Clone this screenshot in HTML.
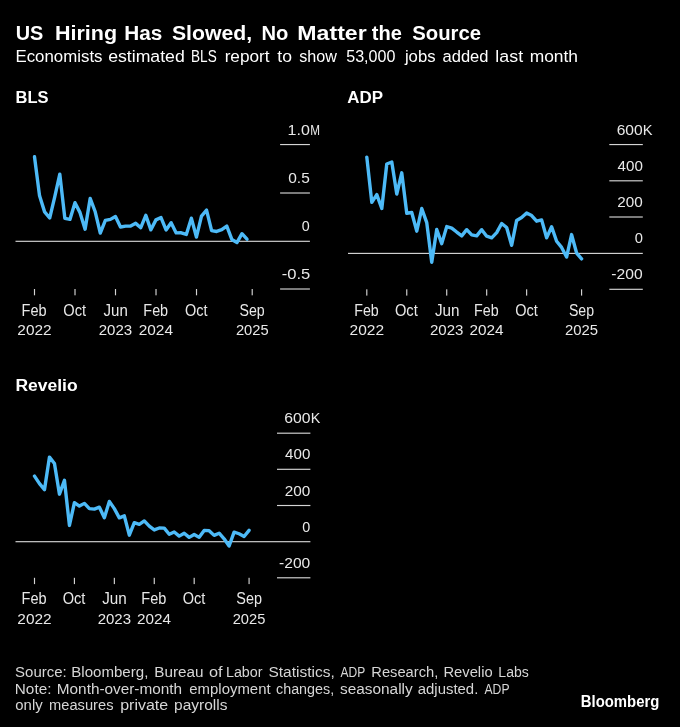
<!DOCTYPE html>
<html><head><meta charset="utf-8"><title>US Hiring Has Slowed, No Matter the Source</title>
<style>
html,body{margin:0;padding:0;background:#000;}
body{width:680px;height:727px;overflow:hidden;}
svg{display:block;will-change:transform;}
svg text{font-family:"Liberation Sans",sans-serif;}
</style></head><body>
<svg width="680" height="727" viewBox="0 0 680 727">
<rect width="680" height="727" fill="#000"/>
<text id="t0" x="15.72" y="40.25" font-size="19.4" font-weight="bold" fill="#ffffff" textLength="27.61" lengthAdjust="spacingAndGlyphs">US</text><text id="t1" x="55.02" y="40.25" font-size="19.4" font-weight="bold" fill="#ffffff" textLength="62.05" lengthAdjust="spacingAndGlyphs">Hiring</text><text id="t2" x="124.21" y="40.25" font-size="19.4" font-weight="bold" fill="#ffffff" textLength="38.04" lengthAdjust="spacingAndGlyphs">Has</text><text id="t3" x="171.90" y="40.25" font-size="19.4" font-weight="bold" fill="#ffffff" textLength="80.13" lengthAdjust="spacingAndGlyphs">Slowed,</text><text id="t4" x="261.41" y="40.25" font-size="19.4" font-weight="bold" fill="#ffffff" textLength="26.88" lengthAdjust="spacingAndGlyphs">No</text><text id="t5" x="297.39" y="40.25" font-size="19.4" font-weight="bold" fill="#ffffff" textLength="69.33" lengthAdjust="spacingAndGlyphs">Matter</text><text id="t6" x="371.88" y="40.25" font-size="19.4" font-weight="bold" fill="#ffffff" textLength="30.08" lengthAdjust="spacingAndGlyphs">the</text><text id="t7" x="412.20" y="40.25" font-size="19.4" font-weight="bold" fill="#ffffff" textLength="68.85" lengthAdjust="spacingAndGlyphs">Source</text><text id="s0" x="15.45" y="61.50" font-size="16.7" fill="#ffffff" textLength="87.04" lengthAdjust="spacingAndGlyphs">Economists</text><text id="s1" x="108.15" y="61.50" font-size="16.7" fill="#ffffff" textLength="76.63" lengthAdjust="spacingAndGlyphs">estimated</text><text id="s2" x="191.02" y="61.50" font-size="16.7" fill="#ffffff" textLength="25.67" lengthAdjust="spacingAndGlyphs">BLS</text><text id="s3" x="224.65" y="61.50" font-size="16.7" fill="#ffffff" textLength="44.93" lengthAdjust="spacingAndGlyphs">report</text><text id="s4" x="277.35" y="61.50" font-size="16.7" fill="#ffffff" textLength="14.65" lengthAdjust="spacingAndGlyphs">to</text><text id="s5" x="299.22" y="61.50" font-size="16.7" fill="#ffffff" textLength="37.70" lengthAdjust="spacingAndGlyphs">show</text><text id="s6" x="346.23" y="61.50" font-size="16.7" fill="#ffffff" textLength="49.18" lengthAdjust="spacingAndGlyphs">53,000</text><text id="s7" x="404.91" y="61.50" font-size="16.7" fill="#ffffff" textLength="30.64" lengthAdjust="spacingAndGlyphs">jobs</text><text id="s8" x="442.50" y="61.50" font-size="16.7" fill="#ffffff" textLength="45.94" lengthAdjust="spacingAndGlyphs">added</text><text id="s9" x="495.38" y="61.50" font-size="16.7" fill="#ffffff" textLength="27.71" lengthAdjust="spacingAndGlyphs">last</text><text id="s10" x="529.67" y="61.50" font-size="16.7" fill="#ffffff" textLength="48.37" lengthAdjust="spacingAndGlyphs">month</text><text id="hBLS" x="15.46" y="102.50" font-size="15.6" font-weight="bold" fill="#ffffff" textLength="33.02" lengthAdjust="spacingAndGlyphs">BLS</text><text id="hADP" x="347.29" y="102.60" font-size="15.6" font-weight="bold" fill="#ffffff" textLength="35.75" lengthAdjust="spacingAndGlyphs">ADP</text><text id="hREV" x="15.42" y="391.25" font-size="15.6" font-weight="bold" fill="#ffffff" textLength="62.19" lengthAdjust="spacingAndGlyphs">Revelio</text><rect x="280.10" y="143.98" width="29.80" height="1.15" fill="#d4d4d4"/><text id="by1.0" x="287.55" y="134.55" font-size="15.1" fill="#e8e8e8" textLength="22.24" lengthAdjust="spacingAndGlyphs">1.0</text><text id="by1.0s" x="310.37" y="134.55" font-size="15.1" fill="#e8e8e8" textLength="9.77" lengthAdjust="spacingAndGlyphs">M</text><rect x="280.10" y="192.43" width="29.80" height="1.15" fill="#d4d4d4"/><text id="by0.5" x="288.28" y="183.00" font-size="15.1" fill="#e8e8e8" textLength="21.47" lengthAdjust="spacingAndGlyphs">0.5</text><rect x="15.50" y="240.73" width="294.40" height="1.15" fill="#d4d4d4"/><text id="by0" x="301.71" y="231.30" font-size="15.1" fill="#e8e8e8" textLength="7.95" lengthAdjust="spacingAndGlyphs">0</text><rect x="280.10" y="288.43" width="29.80" height="1.15" fill="#d4d4d4"/><text id="by-0.5" x="281.66" y="279.00" font-size="15.1" fill="#e8e8e8" textLength="28.54" lengthAdjust="spacingAndGlyphs">-0.5</text><rect x="33.92" y="289.00" width="1.15" height="6.30" fill="#d4d4d4"/><text id="bx34a" x="21.61" y="315.60" font-size="16" fill="#e8e8e8" textLength="25.04" lengthAdjust="spacingAndGlyphs">Feb</text><text id="bx34b" x="17.37" y="334.90" font-size="15.4" fill="#e8e8e8" textLength="34.30" lengthAdjust="spacingAndGlyphs">2022</text><rect x="74.43" y="289.00" width="1.15" height="6.30" fill="#d4d4d4"/><text id="bx75a" x="63.34" y="315.60" font-size="16" fill="#e8e8e8" textLength="22.77" lengthAdjust="spacingAndGlyphs">Oct</text><rect x="114.93" y="289.00" width="1.15" height="6.30" fill="#d4d4d4"/><text id="bx115a" x="103.60" y="315.60" font-size="16" fill="#e8e8e8" textLength="24.24" lengthAdjust="spacingAndGlyphs">Jun</text><text id="bx115b" x="98.69" y="334.90" font-size="15.4" fill="#e8e8e8" textLength="33.52" lengthAdjust="spacingAndGlyphs">2023</text><rect x="155.44" y="289.00" width="1.15" height="6.30" fill="#d4d4d4"/><text id="bx156a" x="143.37" y="315.60" font-size="16" fill="#e8e8e8" textLength="24.75" lengthAdjust="spacingAndGlyphs">Feb</text><text id="bx156b" x="138.74" y="334.90" font-size="15.4" fill="#e8e8e8" textLength="34.28" lengthAdjust="spacingAndGlyphs">2024</text><rect x="195.94" y="289.00" width="1.15" height="6.30" fill="#d4d4d4"/><text id="bx196a" x="185.01" y="315.60" font-size="16" fill="#e8e8e8" textLength="22.48" lengthAdjust="spacingAndGlyphs">Oct</text><rect x="251.63" y="289.00" width="1.15" height="6.30" fill="#d4d4d4"/><text id="bx252a" x="239.44" y="315.60" font-size="16" fill="#e8e8e8" textLength="25.19" lengthAdjust="spacingAndGlyphs">Sep</text><text id="bx252b" x="235.88" y="334.90" font-size="15.4" fill="#e8e8e8" textLength="32.74" lengthAdjust="spacingAndGlyphs">2025</text><path d="M34.50,156.77 L39.56,195.85 L44.62,211.87 L49.68,218.04 L54.74,196.81 L59.80,174.14 L64.86,218.43 L69.92,219.39 L74.98,202.70 L80.04,212.64 L85.10,229.14 L90.16,198.45 L95.22,211.77 L100.28,233.10 L105.34,220.46 L110.40,219.39 L115.46,216.50 L120.52,227.02 L125.58,226.15 L130.64,226.05 L135.70,223.35 L140.76,227.69 L145.82,215.34 L150.88,229.82 L155.94,219.88 L161.00,217.56 L166.06,229.91 L171.12,222.68 L176.18,232.90 L181.24,232.81 L186.30,234.45 L191.36,218.14 L196.42,237.05 L201.48,216.11 L206.54,210.13 L211.60,230.59 L216.66,231.46 L221.72,229.72 L226.78,226.05 L231.84,239.47 L236.90,242.55 L241.96,233.68 L247.02,239.18" fill="none" stroke="#4dbaf7" stroke-width="3.4" stroke-linejoin="round" stroke-linecap="round"/><rect x="609.30" y="143.98" width="33.50" height="1.15" fill="#d4d4d4"/><text id="ay600" x="616.66" y="134.55" font-size="15.1" fill="#e8e8e8" textLength="26.02" lengthAdjust="spacingAndGlyphs">600</text><text id="ay600s" x="642.85" y="134.55" font-size="15.1" fill="#e8e8e8" textLength="9.80" lengthAdjust="spacingAndGlyphs">K</text><rect x="609.30" y="180.23" width="33.50" height="1.15" fill="#d4d4d4"/><text id="ay400" x="617.56" y="170.80" font-size="15.1" fill="#e8e8e8" textLength="25.26" lengthAdjust="spacingAndGlyphs">400</text><rect x="609.30" y="216.43" width="33.50" height="1.15" fill="#d4d4d4"/><text id="ay200" x="617.26" y="207.00" font-size="15.1" fill="#e8e8e8" textLength="25.44" lengthAdjust="spacingAndGlyphs">200</text><rect x="348.00" y="252.83" width="294.80" height="1.15" fill="#d4d4d4"/><text id="ay0" x="634.82" y="243.40" font-size="15.1" fill="#e8e8e8" textLength="8.18" lengthAdjust="spacingAndGlyphs">0</text><rect x="609.30" y="288.73" width="33.50" height="1.15" fill="#d4d4d4"/><text id="ay-200" x="611.37" y="279.30" font-size="15.1" fill="#e8e8e8" textLength="31.29" lengthAdjust="spacingAndGlyphs">-200</text><rect x="366.23" y="289.30" width="1.15" height="6.30" fill="#d4d4d4"/><text id="ax366a" x="354.23" y="315.90" font-size="16" fill="#e8e8e8" textLength="24.51" lengthAdjust="spacingAndGlyphs">Feb</text><text id="ax366b" x="349.64" y="335.20" font-size="15.4" fill="#e8e8e8" textLength="34.51" lengthAdjust="spacingAndGlyphs">2022</text><rect x="406.19" y="289.30" width="1.15" height="6.30" fill="#d4d4d4"/><text id="ax406a" x="394.93" y="315.90" font-size="16" fill="#e8e8e8" textLength="22.81" lengthAdjust="spacingAndGlyphs">Oct</text><rect x="446.15" y="289.30" width="1.15" height="6.30" fill="#d4d4d4"/><text id="ax446a" x="434.94" y="315.90" font-size="16" fill="#e8e8e8" textLength="24.53" lengthAdjust="spacingAndGlyphs">Jun</text><text id="ax446b" x="429.97" y="335.20" font-size="15.4" fill="#e8e8e8" textLength="33.42" lengthAdjust="spacingAndGlyphs">2023</text><rect x="486.11" y="289.30" width="1.15" height="6.30" fill="#d4d4d4"/><text id="ax486a" x="474.09" y="315.90" font-size="16" fill="#e8e8e8" textLength="24.60" lengthAdjust="spacingAndGlyphs">Feb</text><text id="ax486b" x="469.47" y="335.20" font-size="15.4" fill="#e8e8e8" textLength="34.14" lengthAdjust="spacingAndGlyphs">2024</text><rect x="526.06" y="289.30" width="1.15" height="6.30" fill="#d4d4d4"/><text id="ax526a" x="515.14" y="315.90" font-size="16" fill="#e8e8e8" textLength="22.54" lengthAdjust="spacingAndGlyphs">Oct</text><rect x="581.01" y="289.30" width="1.15" height="6.30" fill="#d4d4d4"/><text id="ax581a" x="568.95" y="315.90" font-size="16" fill="#e8e8e8" textLength="25.04" lengthAdjust="spacingAndGlyphs">Sep</text><text id="ax581b" x="564.97" y="335.20" font-size="15.4" fill="#e8e8e8" textLength="33.07" lengthAdjust="spacingAndGlyphs">2025</text><path d="M366.80,157.11 L371.80,202.36 L376.79,194.57 L381.79,208.51 L386.78,163.99 L391.78,162.00 L396.77,194.03 L401.76,172.85 L406.76,213.22 L411.75,212.49 L416.75,231.14 L421.75,208.51 L426.74,222.63 L431.74,262.27 L436.73,229.51 L441.73,243.63 L446.72,226.61 L451.72,228.06 L456.71,232.04 L461.71,235.84 L466.70,229.69 L471.69,234.94 L476.69,235.84 L481.69,229.69 L486.68,236.21 L491.68,237.83 L496.67,232.59 L501.67,223.53 L506.66,227.52 L511.65,245.25 L516.65,220.46 L521.64,217.56 L526.64,213.04 L531.63,215.57 L536.63,221.18 L541.62,219.91 L546.62,237.83 L551.62,226.79 L556.61,241.27 L561.61,247.43 L566.60,257.02 L571.60,234.58 L576.59,253.04 L581.59,258.83" fill="none" stroke="#4dbaf7" stroke-width="3.4" stroke-linejoin="round" stroke-linecap="round"/><rect x="277.00" y="432.62" width="33.40" height="1.15" fill="#d4d4d4"/><text id="ry600" x="284.19" y="423.20" font-size="15.1" fill="#e8e8e8" textLength="26.22" lengthAdjust="spacingAndGlyphs">600</text><text id="ry600s" x="310.64" y="423.20" font-size="15.1" fill="#e8e8e8" textLength="9.60" lengthAdjust="spacingAndGlyphs">K</text><rect x="277.00" y="468.73" width="33.40" height="1.15" fill="#d4d4d4"/><text id="ry400" x="285.12" y="459.30" font-size="15.1" fill="#e8e8e8" textLength="25.16" lengthAdjust="spacingAndGlyphs">400</text><rect x="277.00" y="504.93" width="33.40" height="1.15" fill="#d4d4d4"/><text id="ry200" x="284.66" y="495.50" font-size="15.1" fill="#e8e8e8" textLength="25.52" lengthAdjust="spacingAndGlyphs">200</text><rect x="15.50" y="541.12" width="294.90" height="1.15" fill="#d4d4d4"/><text id="ry0" x="302.23" y="531.70" font-size="15.1" fill="#e8e8e8" textLength="7.99" lengthAdjust="spacingAndGlyphs">0</text><rect x="277.00" y="577.22" width="33.40" height="1.15" fill="#d4d4d4"/><text id="ry-200" x="279.06" y="567.80" font-size="15.1" fill="#e8e8e8" textLength="31.19" lengthAdjust="spacingAndGlyphs">-200</text><rect x="33.92" y="577.80" width="1.15" height="6.30" fill="#d4d4d4"/><text id="rx34a" x="21.61" y="604.40" font-size="16" fill="#e8e8e8" textLength="25.04" lengthAdjust="spacingAndGlyphs">Feb</text><text id="rx34b" x="17.37" y="623.70" font-size="15.4" fill="#e8e8e8" textLength="34.30" lengthAdjust="spacingAndGlyphs">2022</text><rect x="73.84" y="577.80" width="1.15" height="6.30" fill="#d4d4d4"/><text id="rx74a" x="62.71" y="604.40" font-size="16" fill="#e8e8e8" textLength="22.70" lengthAdjust="spacingAndGlyphs">Oct</text><rect x="113.77" y="577.80" width="1.15" height="6.30" fill="#d4d4d4"/><text id="rx114a" x="102.20" y="604.40" font-size="16" fill="#e8e8e8" textLength="24.54" lengthAdjust="spacingAndGlyphs">Jun</text><text id="rx114b" x="97.69" y="623.70" font-size="15.4" fill="#e8e8e8" textLength="33.34" lengthAdjust="spacingAndGlyphs">2023</text><rect x="153.69" y="577.80" width="1.15" height="6.30" fill="#d4d4d4"/><text id="rx154a" x="141.36" y="604.40" font-size="16" fill="#e8e8e8" textLength="25.00" lengthAdjust="spacingAndGlyphs">Feb</text><text id="rx154b" x="137.06" y="623.70" font-size="15.4" fill="#e8e8e8" textLength="33.98" lengthAdjust="spacingAndGlyphs">2024</text><rect x="193.61" y="577.80" width="1.15" height="6.30" fill="#d4d4d4"/><text id="rx194a" x="182.63" y="604.40" font-size="16" fill="#e8e8e8" textLength="22.57" lengthAdjust="spacingAndGlyphs">Oct</text><rect x="248.50" y="577.80" width="1.15" height="6.30" fill="#d4d4d4"/><text id="rx249a" x="236.36" y="604.40" font-size="16" fill="#e8e8e8" textLength="25.60" lengthAdjust="spacingAndGlyphs">Sep</text><text id="rx249b" x="232.70" y="623.70" font-size="15.4" fill="#e8e8e8" textLength="32.64" lengthAdjust="spacingAndGlyphs">2025</text><path d="M34.50,476.09 L39.49,483.68 L44.48,489.64 L49.47,457.11 L54.46,463.44 L59.45,494.16 L64.44,480.25 L69.43,525.43 L74.42,502.66 L79.41,506.09 L84.40,503.38 L89.39,508.62 L94.38,509.17 L99.37,507.18 L104.36,517.66 L109.35,501.39 L114.34,508.62 L119.33,517.84 L124.32,515.85 L129.31,535.19 L134.30,522.72 L139.29,524.35 L144.28,520.91 L149.27,526.16 L154.26,529.95 L159.25,527.96 L164.24,528.14 L169.23,534.29 L174.22,531.94 L179.21,536.10 L184.20,533.20 L189.19,537.36 L194.18,534.47 L199.17,537.36 L204.16,530.49 L209.15,530.67 L214.14,535.37 L219.13,533.20 L224.12,538.81 L229.11,546.04 L234.10,532.12 L239.09,533.75 L244.08,536.46 L249.07,530.31" fill="none" stroke="#4dbaf7" stroke-width="3.4" stroke-linejoin="round" stroke-linecap="round"/><text id="fa0" x="15.12" y="677.30" font-size="15.3" fill="#d6d6d6" textLength="51.65" lengthAdjust="spacingAndGlyphs">Source:</text><text id="fa1" x="71.23" y="677.30" font-size="15.3" fill="#d6d6d6" textLength="77.12" lengthAdjust="spacingAndGlyphs">Bloomberg,</text><text id="fa2" x="154.23" y="677.30" font-size="15.3" fill="#d6d6d6" textLength="49.24" lengthAdjust="spacingAndGlyphs">Bureau</text><text id="fa3" x="208.90" y="677.30" font-size="15.3" fill="#d6d6d6" textLength="13.60" lengthAdjust="spacingAndGlyphs">of</text><text id="fa4" x="225.92" y="677.30" font-size="15.3" fill="#d6d6d6" textLength="36.69" lengthAdjust="spacingAndGlyphs">Labor</text><text id="fa5" x="268.46" y="677.30" font-size="15.3" fill="#d6d6d6" textLength="66.25" lengthAdjust="spacingAndGlyphs">Statistics,</text><text id="fa6" x="340.51" y="677.30" font-size="15.3" fill="#d6d6d6" textLength="24.72" lengthAdjust="spacingAndGlyphs">ADP</text><text id="fa7" x="371.31" y="677.30" font-size="15.3" fill="#d6d6d6" textLength="66.99" lengthAdjust="spacingAndGlyphs">Research,</text><text id="fa8" x="443.42" y="677.30" font-size="15.3" fill="#d6d6d6" textLength="49.24" lengthAdjust="spacingAndGlyphs">Revelio</text><text id="fa9" x="498.35" y="677.30" font-size="15.3" fill="#d6d6d6" textLength="30.49" lengthAdjust="spacingAndGlyphs">Labs</text><text id="fb0" x="14.82" y="693.80" font-size="15.3" fill="#d6d6d6" textLength="36.58" lengthAdjust="spacingAndGlyphs">Note:</text><text id="fb1" x="56.81" y="693.80" font-size="15.3" fill="#d6d6d6" textLength="125.30" lengthAdjust="spacingAndGlyphs">Month-over-month</text><text id="fb2" x="189.34" y="693.80" font-size="15.3" fill="#d6d6d6" textLength="81.25" lengthAdjust="spacingAndGlyphs">employment</text><text id="fb3" x="276.01" y="693.80" font-size="15.3" fill="#d6d6d6" textLength="58.17" lengthAdjust="spacingAndGlyphs">changes,</text><text id="fb4" x="339.97" y="693.80" font-size="15.3" fill="#d6d6d6" textLength="72.73" lengthAdjust="spacingAndGlyphs">seasonally</text><text id="fb5" x="417.78" y="693.80" font-size="15.3" fill="#d6d6d6" textLength="60.52" lengthAdjust="spacingAndGlyphs">adjusted.</text><text id="fb6" x="484.49" y="693.80" font-size="15.3" fill="#d6d6d6" textLength="25.01" lengthAdjust="spacingAndGlyphs">ADP</text><text id="fc0" x="15.33" y="709.80" font-size="15.3" fill="#d6d6d6" textLength="27.36" lengthAdjust="spacingAndGlyphs">only</text><text id="fc1" x="49.06" y="709.80" font-size="15.3" fill="#d6d6d6" textLength="64.44" lengthAdjust="spacingAndGlyphs">measures</text><text id="fc2" x="120.22" y="709.80" font-size="15.3" fill="#d6d6d6" textLength="47.94" lengthAdjust="spacingAndGlyphs">private</text><text id="fc3" x="174.02" y="709.80" font-size="15.3" fill="#d6d6d6" textLength="53.43" lengthAdjust="spacingAndGlyphs">payrolls</text><text id="logo" x="580.81" y="706.80" font-size="16.2" font-weight="bold" fill="#ffffff" textLength="78.51" lengthAdjust="spacingAndGlyphs">Bloomberg</text>
</svg>
</body></html>
